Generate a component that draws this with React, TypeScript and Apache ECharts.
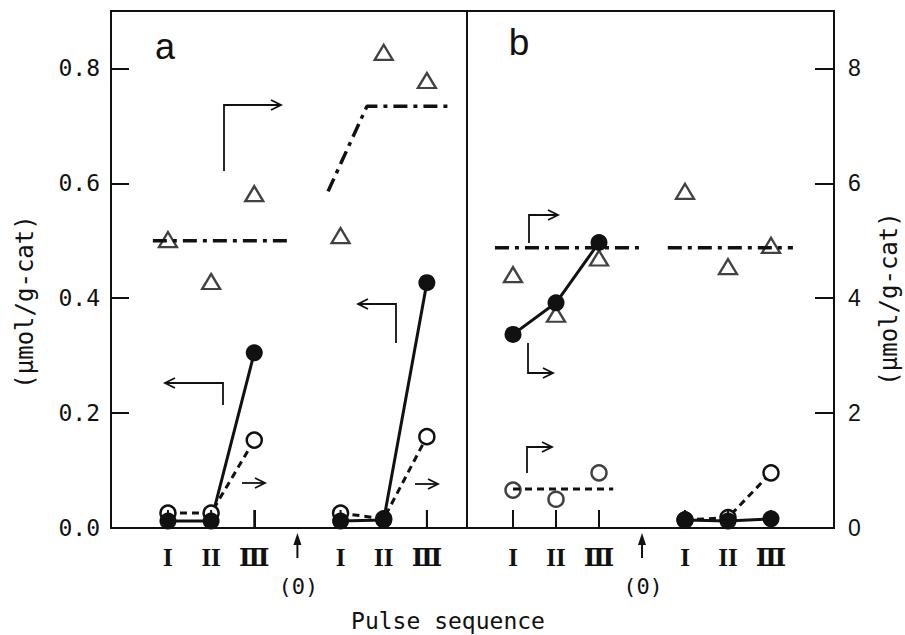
import { useEffect, useRef } from "react";
import * as echarts from "echarts";

// Pulse positions along the x axis: first sequence, oxygen reset (0), second sequence
const pulseLabels = ["I", "II", "Ⅲ", "(0)", "I", "II", "Ⅲ"];
const firstSeq = [1, 2, 3];
const secondSeq = [5, 6, 7];
const resetPos = 4;
const pulseTicks = [1, 2, 3, 5, 6, 7];

// Axis ticks
const leftTicks = [0, 0.2, 0.4, 0.6, 0.8];
const rightTicks = [0, 2, 4, 6, 8];

// Panel a, left axis (μmol/g-cat)
const aFilled1 = [0.012, 0.012, 0.305];
const aFilled2 = [0.012, 0.014, 0.427];
// Panel a, right axis
const aOpen1 = [0.26, 0.26, 1.53];
const aOpen2 = [0.26, 0.16, 1.59];
const aTri1 = [5.02, 4.29, 5.82];
const aTri2 = [5.09, 8.28, 7.79];
const aTriTrend1X = [0.65, 3.87];
const aTriTrend1Y = [5.0, 5.0];
const aTriTrend2X = [4.71, 5.61, 7.53];
const aTriTrend2Y = [5.86, 7.34, 7.34];

// Panel b, right axis
const bTri1 = [4.41, 3.72, 4.7];
const bTri2 = [5.86, 4.55, 4.92];
const bFilled1 = [3.37, 3.92, 4.97];
const bFilled2 = [0.14, 0.12, 0.16];
const bOpen1 = [0.66, 0.5, 0.96];
const bOpen2 = [0.14, 0.18, 0.96];
const bTriTrend1X = [0.58, 3.93];
const bTriTrend2X = [4.6, 7.51];
const bTriTrendY = [4.88, 4.88];
const bOpenMeanX = [1, 3.33];
const bOpenMeanY = [0.68, 0.68];

const zip = (xs: number[], ys: number[]) => xs.map((x, i) => [x, ys[i]]);

const INK = "#111";
const MONO = "'DejaVu Sans Mono', monospace";

const filledStyle = {
  type: "line",
  symbol: "circle",
  symbolSize: 17,
  itemStyle: { color: INK },
  lineStyle: { color: INK, width: 3, type: "solid" },
};
const openStyle = {
  type: "line",
  symbol: "circle",
  symbolSize: 15,
  itemStyle: { color: "#fff", borderColor: INK, borderWidth: 2.5 },
  lineStyle: { color: INK, width: 3, type: [7, 5] },
};
const triStyle = {
  type: "scatter",
  symbol: "triangle",
  symbolSize: [18, 15],
  itemStyle: { color: "#fff", borderColor: INK, borderWidth: 2.3 },
};
const dashDot = {
  type: "line",
  symbol: "none",
  lineStyle: { color: INK, width: 3.5, type: [14, 6, 4, 6] },
};
const dashed = {
  type: "line",
  symbol: "none",
  lineStyle: { color: INK, width: 3, type: [7, 5] },
};

const xAxisBase = {
  type: "value",
  axisLine: { show: true, onZero: false, lineStyle: { color: INK, width: 2 } },
  axisTick: {
    show: true,
    inside: true,
    length: 18,
    customValues: pulseTicks,
    lineStyle: { color: INK, width: 2 },
  },
  axisLabel: {
    customValues: pulseTicks,
    formatter: (v: number) => pulseLabels[Math.round(v) - 1],
    color: INK,
    fontFamily: "'Liberation Serif', 'DejaVu Serif', serif",
    fontWeight: "bold",
    fontSize: 25,
    margin: 17,
  },
  splitLine: { show: false },
};

function arrowShape(points: number[][], dir: "left" | "right") {
  const [tx, ty] = points[points.length - 1];
  const back = dir === "right" ? -10 : 10;
  return [
    {
      type: "polyline",
      shape: { points },
      style: { stroke: INK, lineWidth: 1.8, fill: "none" },
    },
    {
      type: "polyline",
      shape: {
        points: [
          [tx + back, ty - 5],
          [tx, ty],
          [tx + back, ty + 5],
        ],
      },
      style: { stroke: INK, lineWidth: 1.8, fill: "none" },
    },
  ];
}

function textEl(text: string, x: number, y: number, font: string, rotation = 0) {
  return {
    type: "text",
    x,
    y,
    rotation,
    style: {
      text,
      font,
      fill: INK,
      align: "center",
      verticalAlign: "middle",
      textAlign: "center",
      textVerticalAlign: "middle",
    },
  };
}

export default function App() {
  const ref = useRef<HTMLDivElement>(null);

  useEffect(() => {
    if (!ref.current) return;
    const chart = echarts.init(ref.current, null, { renderer: "svg" });

    const option: any = {
      animation: false,
      backgroundColor: "#fff",
      grid: [
        { left: 111, top: 11, width: 356, height: 517, show: true, borderColor: INK, borderWidth: 2 },
        { left: 467, top: 11, width: 367, height: 517, show: true, borderColor: INK, borderWidth: 2 },
      ],
      xAxis: [
        { ...xAxisBase, gridIndex: 0, min: -0.32, max: 7.93 },
        { ...xAxisBase, gridIndex: 1, min: -0.07, max: 8.465 },
      ],
      yAxis: [
        {
          type: "value",
          gridIndex: 0,
          position: "left",
          min: 0,
          max: 0.9,
          axisLine: { show: true, onZero: false, lineStyle: { color: INK, width: 2 } },
          axisTick: {
            show: true,
            inside: true,
            length: 18,
            customValues: leftTicks,
            lineStyle: { color: INK, width: 2 },
          },
          axisLabel: {
            customValues: leftTicks,
            formatter: (v: number) => v.toFixed(1),
            color: INK,
            fontFamily: MONO,
            fontSize: 23,
            margin: 11,
          },
          splitLine: { show: false },
        },
        {
          type: "value",
          gridIndex: 0,
          position: "right",
          min: 0,
          max: 9,
          show: false,
          axisLine: { onZero: false },
        },
        {
          type: "value",
          gridIndex: 1,
          position: "right",
          min: 0,
          max: 9,
          axisLine: { show: true, onZero: false, lineStyle: { color: INK, width: 2 } },
          axisTick: {
            show: true,
            inside: true,
            length: 19,
            customValues: rightTicks,
            lineStyle: { color: INK, width: 2 },
          },
          axisLabel: {
            customValues: rightTicks,
            formatter: (v: number) => String(v),
            color: INK,
            fontFamily: "'Liberation Sans', Arial, sans-serif",
            fontSize: 23,
            margin: 14,
          },
          splitLine: { show: false },
        },
      ],
      series: [
        // panel a
        { ...dashDot, xAxisIndex: 0, yAxisIndex: 1, data: zip(aTriTrend1X, aTriTrend1Y) },
        { ...dashDot, xAxisIndex: 0, yAxisIndex: 1, data: zip(aTriTrend2X, aTriTrend2Y) },
        { ...triStyle, xAxisIndex: 0, yAxisIndex: 1, data: zip(firstSeq, aTri1) },
        { ...triStyle, xAxisIndex: 0, yAxisIndex: 1, data: zip(secondSeq, aTri2) },
        { ...openStyle, xAxisIndex: 0, yAxisIndex: 1, data: zip(firstSeq, aOpen1) },
        { ...openStyle, xAxisIndex: 0, yAxisIndex: 1, data: zip(secondSeq, aOpen2) },
        { ...filledStyle, xAxisIndex: 0, yAxisIndex: 0, data: zip(firstSeq, aFilled1) },
        { ...filledStyle, xAxisIndex: 0, yAxisIndex: 0, data: zip(secondSeq, aFilled2) },
        // panel b
        { ...dashDot, xAxisIndex: 1, yAxisIndex: 2, data: zip(bTriTrend1X, bTriTrendY) },
        { ...dashDot, xAxisIndex: 1, yAxisIndex: 2, data: zip(bTriTrend2X, bTriTrendY) },
        { ...dashed, xAxisIndex: 1, yAxisIndex: 2, data: zip(bOpenMeanX, bOpenMeanY) },
        { ...triStyle, xAxisIndex: 1, yAxisIndex: 2, data: zip(firstSeq, bTri1) },
        { ...triStyle, xAxisIndex: 1, yAxisIndex: 2, data: zip(secondSeq, bTri2) },
        { ...openStyle, type: "scatter", xAxisIndex: 1, yAxisIndex: 2, data: zip(firstSeq, bOpen1) },
        { ...openStyle, xAxisIndex: 1, yAxisIndex: 2, data: zip(secondSeq, bOpen2) },
        { ...filledStyle, xAxisIndex: 1, yAxisIndex: 2, data: zip(firstSeq, bFilled1) },
        { ...filledStyle, xAxisIndex: 1, yAxisIndex: 2, data: zip(secondSeq, bFilled2) },
      ],
    };
    chart.setOption(option);

    // Pixel positions from each panel's own x scale
    const y0 = chart.convertToPixel({ yAxisIndex: 0 }, 0) as number;
    const px = (axis: number, v: number) => chart.convertToPixel({ xAxisIndex: axis }, v) as number;

    // Inward pulse ticks, kept on top of the plotted marks
    const pulseTickLines = (axis: number) =>
      pulseTicks.map((p) => ({
        type: "line",
        z: 100,
        shape: { x1: px(axis, p), y1: y0, x2: px(axis, p), y2: y0 - 18 },
        style: { stroke: INK, lineWidth: 2 },
      }));

    // Oxygen-reset markers below each panel's axis
    const resetArrow = (x: number) => [
      {
        type: "line",
        shape: { x1: x, y1: y0 + 30, x2: x, y2: y0 + 14 },
        style: { stroke: INK, lineWidth: 2 },
      },
      {
        type: "polygon",
        shape: {
          points: [
            [x - 4, y0 + 17],
            [x, y0 + 5],
            [x + 4, y0 + 17],
          ],
        },
        style: { fill: INK },
      },
      textEl("(0)", x + 1, y0 + 58, `22px ${MONO}`),
    ];

    const graphic: any[] = [
      ...pulseTickLines(0),
      ...pulseTickLines(1),
      ...resetArrow(px(0, resetPos)),
      ...resetArrow(px(1, resetPos)),
      textEl("a", 165, 46, "36px 'Liberation Sans', Arial, sans-serif"),
      textEl("b", 519, 42, "37px 'Liberation Sans', Arial, sans-serif"),
      textEl("(μmol/g-cat)", 25, 302, `24px ${MONO}`, Math.PI / 2),
      textEl("(μmol/g-cat)", 889, 299, `24px ${MONO}`, Math.PI / 2),
      textEl("Pulse sequence", 448, 621, `23px ${MONO}`),
      // axis-assignment arrows, panel a
      ...arrowShape([[224, 171], [224, 105], [281, 105]], "right"),
      ...arrowShape([[223, 405], [223, 383], [165, 383]], "left"),
      ...arrowShape([[242, 483], [265, 483]], "right"),
      ...arrowShape([[396, 343], [396, 304], [358, 304]], "left"),
      ...arrowShape([[415, 484], [438, 484]], "right"),
      // panel b
      ...arrowShape([[529, 243], [529, 215], [558, 215]], "right"),
      ...arrowShape([[528, 343], [528, 373], [553, 373]], "right"),
      ...arrowShape([[527, 473], [527, 447], [552, 447]], "right"),
    ];
    chart.setOption({ graphic });

    return () => chart.dispose();
  }, []);

  return (
    <div
      ref={ref}
      style={{ position: "fixed", left: 0, top: 0, width: 905, height: 635, background: "#fff" }}
    />
  );
}
